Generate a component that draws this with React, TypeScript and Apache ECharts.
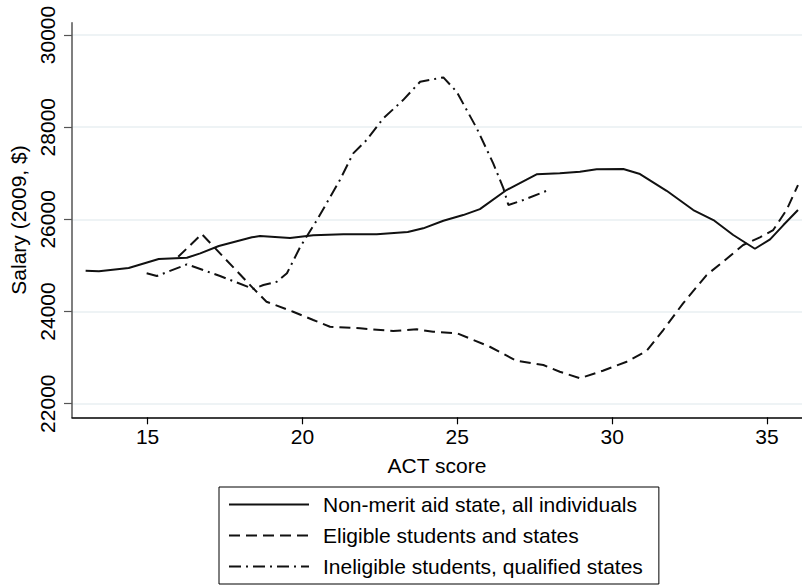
import React, { useEffect, useRef } from "react";
import * as echarts from "echarts";

const seriesNames = [
  "Non-merit aid state, all individuals",
  "Eligible students and states",
  "Ineligible students, qualified states",
];

const nonMeritX = [13.0, 13.43, 14.39, 15.36, 16.27, 16.7, 17.3, 18.37, 18.63, 19.6, 20.35, 21.32, 22.4, 23.4, 23.9, 24.55, 25.19, 25.73, 26.59, 27.56, 28.31, 28.96, 29.5, 30.36, 30.9, 31.76, 32.62, 33.27, 33.91, 34.61, 35.1, 35.53, 36.0];
const nonMeritY = [24885, 24872, 24944, 25139, 25167, 25262, 25421, 25610, 25638, 25594, 25653, 25675, 25675, 25725, 25805, 25970, 26093, 26223, 26636, 26976, 26998, 27033, 27085, 27091, 26983, 26620, 26202, 25985, 25660, 25362, 25566, 25876, 26202];

const eligibleX = [15.99, 16.75, 18.41, 18.84, 19.7, 20.35, 20.89, 21.86, 22.93, 23.69, 24.22, 25.0, 26.05, 26.91, 27.78, 28.31, 28.96, 29.7, 30.47, 31.11, 31.65, 32.29, 33.05, 33.58, 34.23, 34.77, 35.2, 35.63, 36.0];
const eligibleY = [25189, 25681, 24503, 24213, 23996, 23816, 23670, 23636, 23577, 23614, 23562, 23527, 23236, 22933, 22839, 22694, 22551, 22716, 22911, 23143, 23599, 24178, 24792, 25080, 25443, 25609, 25768, 26202, 26744];

const ineligibleX = [14.97, 15.3, 16.27, 17.34, 18.41, 18.74, 19.17, 19.5, 19.93, 20.47, 21.21, 21.64, 22.07, 22.61, 23.25, 23.8, 24.55, 24.98, 25.63, 26.16, 26.49, 26.65, 27.13, 28.0];
const ineligibleY = [24829, 24770, 25024, 24770, 24492, 24575, 24647, 24829, 25405, 25985, 26853, 27432, 27720, 28191, 28588, 28985, 29080, 28768, 27974, 27215, 26672, 26310, 26419, 26651];

const xTicks = [15, 20, 25, 30, 35];
const yTicks = [22000, 24000, 26000, 28000, 30000];

const pairs = (xs: number[], ys: number[]) => xs.map((x, i) => [x, ys[i]]);

const FONT = "Liberation Sans, Arial, sans-serif";

export default function App() {
  const ref = useRef<HTMLDivElement>(null);
  useEffect(() => {
    if (!ref.current) return;
    const chart = echarts.init(ref.current, undefined, { renderer: "svg" });
    const lineBase = { color: "#111", width: 2 };
    chart.setOption({
      animation: false,
      backgroundColor: "#fff",
      textStyle: { fontFamily: FONT },
      grid: { left: 72, right: 0, top: 22.7, bottom: 168.7 },
      legend: {
        data: seriesNames,
        orient: "vertical",
        left: 219,
        top: 487,
        padding: [7, 16, 7, 9],
        itemWidth: 80,
        itemHeight: 21,
        itemGap: 10,
        borderColor: "#000",
        borderWidth: 1,
        selectedMode: false,
        itemStyle: { color: "transparent", borderColor: "transparent", borderWidth: 0, opacity: 0 },
        lineStyle: { color: "#111", width: 2 },
        textStyle: { fontSize: 21, color: "#000", fontFamily: FONT, padding: [0, 0, 0, 9] },
      },
      xAxis: {
        type: "value",
        min: 12.56,
        max: 36.13,
        name: "ACT score",
        nameLocation: "middle",
        nameGap: 38,
        nameTextStyle: { fontSize: 21, color: "#000", fontFamily: FONT },
        axisLine: { onZero: false, lineStyle: { color: "#000", width: 1.5 } },
        axisTick: { customValues: xTicks, length: 7, lineStyle: { color: "#000", width: 1.2 } },
        axisLabel: { customValues: xTicks, fontSize: 21, color: "#000", margin: 9, fontFamily: FONT },
        splitLine: { show: false },
      },
      yAxis: {
        type: "value",
        min: 21705,
        max: 30267,
        name: "Salary (2009, $)",
        nameLocation: "middle",
        nameGap: 30,
        nameTextStyle: { fontSize: 21, color: "#000", fontFamily: FONT },
        axisLine: { show: true, onZero: false, lineStyle: { color: "#555", width: 1.5 } },
        axisTick: { show: true, customValues: yTicks, length: 8, lineStyle: { color: "#555", width: 1.2 } },
        axisLabel: {
          customValues: yTicks,
          rotate: 90,
          fontSize: 21,
          color: "#000",
          margin: 14,
          fontFamily: FONT,
          formatter: (v: number) => String(Math.round(v)),
        },
        splitLine: { show: true, lineStyle: { color: "#e8eff2", width: 1.5 } },
      },
      series: [
        {
          name: seriesNames[0],
          type: "line",
          symbol: "none",
          data: pairs(nonMeritX, nonMeritY),
          lineStyle: { ...lineBase, type: "solid" },
          itemStyle: { color: "#111" },
        },
        {
          name: seriesNames[1],
          type: "line",
          symbol: "none",
          data: pairs(eligibleX, eligibleY),
          lineStyle: { ...lineBase, type: [11, 6] },
          itemStyle: { color: "#111" },
        },
        {
          name: seriesNames[2],
          type: "line",
          symbol: "none",
          data: pairs(ineligibleX, ineligibleY),
          lineStyle: { ...lineBase, type: [12, 5, 2, 5] },
          itemStyle: { color: "#111" },
        },
      ],
    });
    return () => chart.dispose();
  }, []);
  return <div ref={ref} style={{ position: "fixed", left: 0, top: 0, width: 802, height: 586 }} />;
}
